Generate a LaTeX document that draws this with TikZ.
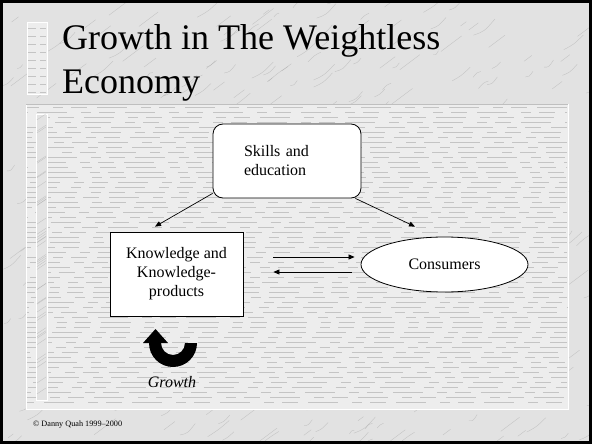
\documentclass[tikz,border=0pt]{standalone}
\usepackage{fontspec}
\setmainfont{Liberation Serif}
\usetikzlibrary{shapes.geometric,arrows.meta,calc}
\definecolor{marble}{HTML}{E2E2E2}
\definecolor{vein}{HTML}{A0A0A0}
\definecolor{panelbg}{HTML}{EDEDED}
\definecolor{streak}{HTML}{C4C4C4}
\begin{document}
\begin{tikzpicture}[x=1pt,y=-1pt,
  lbl/.style={font=\fontsize{16}{19}\selectfont},
  boxnode/.style={draw=black, fill=white, line width=0.8pt, lbl},
  arr/.style={-{Triangle[length=6pt,width=5pt]}, line width=0.7pt},
  titletext/.style={anchor=base west, inner sep=0, font=\fontsize{36}{43}\selectfont},
  ornament/.style={fill=panelbg, draw=white, line width=0.8pt}]
\useasboundingbox (0,0) rectangle (592,444);
% marble background
\fill[marble] (0,0) rectangle (592,444);
\pgfmathsetseed{7}
\foreach \i in {1,...,420}{
  \pgfmathsetmacro\xa{rnd*600}
  \pgfmathsetmacro\ya{rnd*450}
  \pgfmathsetmacro\ln{5+rnd*18}
  \pgfmathsetmacro\bd{rnd*6-3}
  \draw[vein, line width=0.35pt, opacity=0.5] (\xa,\ya) .. controls +(0.5*\ln,-0.3*\ln+\bd) .. ++(\ln,-0.75*\ln);
}
% outer frame
\draw[black, line width=3pt] (1.5,1.5) rectangle (590.5,442.5);
% title ornament
\fill[ornament] (27,22) rectangle (47,94);
\foreach \y in {28,36,...,92}
  \draw[streak, line width=0.45pt, dash pattern=on 8pt off 4pt] (28,\y) -- (46,\y);
% content panel
\fill[panelbg] (26,104) rectangle (568,409);
\foreach \y in {107,112,...,406}{
  \pgfmathsetmacro\ph{rnd*60}
  \draw[streak, line width=0.35pt, dash pattern=on 16pt off 10pt on 30pt off 14pt on 10pt off 8pt, dash phase=\ph] (27,\y) -- (567,\y);
}
\draw[white, line width=0.8pt] (26,104) rectangle (568,409);
\draw[gray!50, line width=0.5pt] (26,104) -- (568,104);
% inner strip ornament
\fill[gray!22, draw=white, line width=0.8pt] (36,114) rectangle (47,400);
\foreach \i in {1,...,40}{
  \pgfmathsetmacro\ya{114+rnd*280}
  \draw[vein, line width=0.35pt, opacity=0.5] (37,\ya) -- ++(9,-6);
}
% title
\node[titletext] (t1) at (62,50) {Growth in The Weightless};
\node[titletext] (t2) at (62,93) {Economy};
% diagram nodes
\node[boxnode, rounded corners=10pt, minimum width=148pt, minimum height=74pt,
      text width=86pt, align=left, inner sep=0] (skills) at (287,161) {Skills and\\education};
\node[boxnode, minimum width=133pt, minimum height=84pt, align=center, inner sep=0] (know) at (176.5,274)
      {Knowledge and\\Knowledge-\\products};
\node[boxnode, ellipse, minimum width=167pt, minimum height=55pt, inner sep=0] (cons) at (444.5,264.5) {Consumers};
% connectors
\draw[arr] ([yshift=5pt]skills.south west) -- ([xshift=-21.5pt,yshift=5pt]know.north);
\draw[arr] ([xshift=-6pt]skills.south east) -- ([xshift=-29.5pt,yshift=10pt]cons.north);
\draw[arr] ([xshift=30pt,yshift=17pt]know.east) -- ([xshift=-6pt,yshift=7.5pt]cons.west);
\draw[arr] ([xshift=-9pt,yshift=-7.5pt]cons.west) -- ([xshift=30pt,yshift=2pt]know.east);
% growth loop arrow
\fill[black] (149,343) arc[start angle=180, end angle=360, radius=24pt]
  -- (185,343) arc[start angle=0, end angle=-180, radius=12pt]
  -- (168,343) -- (155.5,329) -- (143,343) -- cycle;
\node[lbl, font=\fontsize{16}{19}\selectfont\itshape] (growth) at (172,382) {Growth};
% footer
\node[anchor=base west, inner sep=0, font=\fontsize{8.2}{10}\selectfont] (foot) at (33,426) {© Danny Quah 1999–2000};
\end{tikzpicture}
\end{document}
